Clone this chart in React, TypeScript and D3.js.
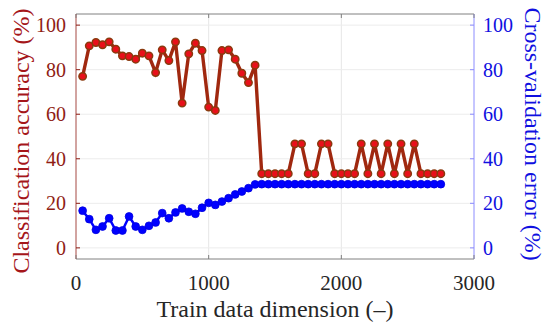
import React from "react";
import * as d3 from "d3";

const dims: number[] = d3.range(50, 2751, 50);
const accuracy: number[] = [
  77, 90.7, 92.2, 91.2, 92.5, 89.2, 86.2, 85.9, 84.7, 87.4,
  86.2, 78.7, 88.9, 84.1, 92.5, 65, 87.1, 91.9, 88.6, 63.2,
  61.7, 88.6, 88.9, 84.7, 78.4, 74.2, 82, 33.3, 33.3, 33.3,
  33.3, 33.3, 46.7, 46.7, 33.3, 33.3, 46.7, 46.7, 33.3, 33.3,
  33.3, 33.3, 46.7, 33.3, 46.7, 33.3, 46.7, 33.3, 46.7, 33.3,
  46.7, 33.3, 33.3, 33.3, 33.3,
];
const cvError: number[] = [
  16.7, 12.9, 8.1, 9.6, 13.3, 7.8, 7.8, 14.1, 9.6, 8.1,
  9.9, 11.4, 15.6, 13.3, 15.9, 17.7, 16.2, 15.3, 18, 20.2,
  19.3, 20.8, 22.3, 24, 25.3, 26.8, 28.5, 28.6, 28.6, 28.6,
  28.6, 28.6, 28.6, 28.6, 28.6, 28.6, 28.6, 28.6, 28.6, 28.6,
  28.6, 28.6, 28.6, 28.6, 28.6, 28.6, 28.6, 28.6, 28.6, 28.6,
  28.6, 28.6, 28.6, 28.6, 28.6,
];
const xTicks: number[] = [0, 1000, 2000, 3000];
const yTicks: number[] = [0, 20, 40, 60, 80, 100];

const W = 550;
const H = 328;
const L = 76, R = 474, T = 14, B = 259;
const FONT = '"Liberation Serif", "Times New Roman", serif';
const LEFT_COL = "#8f1d14";
const RIGHT_COL = "#1010e0";

export default function App() {
  const x = d3.scaleLinear().domain([0, 3000]).range([L, R]);
  const y = d3.scaleLinear().domain([-5, 105]).range([B, T]);
  const idx = d3.range(dims.length);
  const redLine = d3.line<number>().x((i) => x(dims[i])).y((i) => y(accuracy[i]))(idx) || "";
  const blueLine = d3.line<number>().x((i) => x(dims[i])).y((i) => y(cvError[i]))(idx) || "";
  const ts = (size: number): React.CSSProperties => ({ fontFamily: FONT, fontSize: size + "px" });

  return (
    <svg width={W} height={H} style={{ position: "absolute", left: 0, top: 0, background: "#fff" }}>
      <rect x={0} y={0} width={W} height={H} fill="#fff" />
      {/* grid */}
      {xTicks.slice(1, -1).map((t) => (
        <line key={"gx" + t} x1={x(t)} x2={x(t)} y1={T} y2={B} stroke="#e6e6e6" strokeWidth={1} />
      ))}
      {yTicks.map((t) => (
        <line key={"gy" + t} x1={L} x2={R} y1={y(t)} y2={y(t)} stroke="#ececec" strokeWidth={1} />
      ))}
      {/* box */}
      <line x1={L} x2={R} y1={T} y2={T} stroke="#808080" strokeWidth={1} />
      <line x1={L} x2={R} y1={B} y2={B} stroke="#808080" strokeWidth={1} />
      <line x1={L} x2={L} y1={T} y2={B} stroke={LEFT_COL} strokeWidth={1} opacity={0.8} />
      <line x1={R} x2={R} y1={T} y2={B} stroke="#8c8cff" strokeWidth={1} />
      {/* x ticks */}
      {xTicks.map((t) => (
        <g key={"xt" + t}>
          <line x1={x(t)} x2={x(t)} y1={B} y2={B - 4} stroke="#808080" />
          <line x1={x(t)} x2={x(t)} y1={T} y2={T + 4} stroke="#808080" />
          <text x={x(t)} y={290} textAnchor="middle" style={ts(21)} fill="#262626">
            {t}
          </text>
        </g>
      ))}
      {/* y ticks left */}
      {yTicks.map((t) => (
        <g key={"yl" + t}>
          <line x1={L} x2={L + 4} y1={y(t)} y2={y(t)} stroke={LEFT_COL} />
          <text x={L - 10} y={y(t) + 7} textAnchor="end" style={ts(20)} fill={LEFT_COL}>
            {t}
          </text>
        </g>
      ))}
      {/* y ticks right */}
      {yTicks.map((t) => (
        <g key={"yr" + t}>
          <line x1={R - 4} x2={R} y1={y(t)} y2={y(t)} stroke="#8c8cff" />
          <text x={R + 9} y={y(t) + 7} textAnchor="start" style={ts(20)} fill={RIGHT_COL}>
            {t}
          </text>
        </g>
      ))}
      {/* series */}
      <path d={blueLine} fill="none" stroke="#0000ff" strokeWidth={2.5} />
      {idx.map((i) => (
        <circle key={"b" + i} cx={x(dims[i])} cy={y(cvError[i])} r={3.9} fill="#0000ff" stroke="#0000e0" strokeWidth={0.8} />
      ))}
      <path d={redLine} fill="none" stroke="#a0280f" strokeWidth={3.4} />
      {idx.map((i) => (
        <circle key={"r" + i} cx={x(dims[i])} cy={y(accuracy[i])} r={3.7} fill="#e8101a" stroke="#8a3a0e" strokeWidth={1.5} />
      ))}
      {/* axis titles */}
      <text x={(L + R) / 2} y={317} textAnchor="middle" style={ts(24)} fill="#262626">
        Train data dimension (–)
      </text>
      <text
        transform={`translate(29, 141) rotate(-90)`}
        textAnchor="middle"
        style={ts(24)}
        fill="#a5161a"
      >
        Classification accuracy (%)
      </text>
      <text
        transform={`translate(525, 134) rotate(90)`}
        textAnchor="middle"
        style={ts(24)}
        fill={RIGHT_COL}
      >
        Cross-validation error (%)
      </text>
    </svg>
  );
}
